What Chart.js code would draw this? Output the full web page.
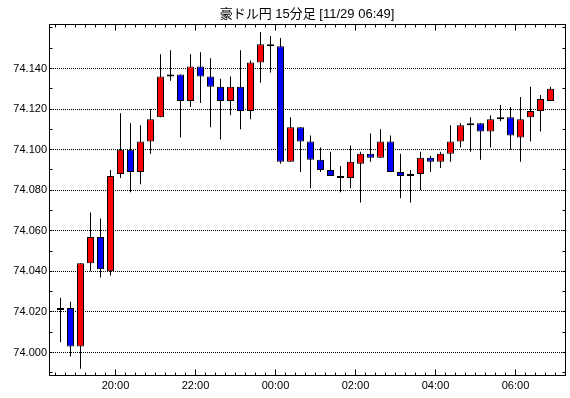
<!DOCTYPE html>
<html>
<head>
<meta charset="utf-8">
<script src="https://cdn.jsdelivr.net/npm/chart.js"></script>
<style>
  body { margin: 0; background: #fff; }
  canvas { display: block; }
</style>
</head>
<body>
<canvas id="chart" width="570" height="398"></canvas>
<script>
// Data: AUD/JPY 15 minute candles
let times = ["18:30","18:45","19:00","19:15","19:30","19:45",
  "20:00","20:15","20:30","20:45","21:00","21:15","21:30","21:45",
  "22:00","22:15","22:30","22:45","23:00","23:15","23:30","23:45",
  "00:00","00:15","00:30","00:45","01:00","01:15","01:30","01:45",
  "02:00","02:15","02:30","02:45","03:00","03:15","03:30","03:45",
  "04:00","04:15","04:30","04:45","05:00","05:15","05:30","05:45",
  "06:00","06:15","06:30","06:45"];
let opens  = [74.021,74.022,74.003,74.044,74.057,74.040,74.088,74.100,74.089,74.104,
              74.116,74.136,74.137,74.124,74.141,74.136,74.131,74.124,74.131,74.119,
              74.143,74.152,74.151,74.094,74.111,74.104,74.095,74.090,74.087,74.086,
              74.093,74.098,74.096,74.104,74.089,74.087,74.088,74.096,74.094,74.098,
              74.104,74.112,74.113,74.109,74.115,74.116,74.106,74.116,74.119,74.124];
let highs  = [74.027,74.025,74.044,74.069,74.066,74.090,74.118,74.113,74.112,74.120,
              74.147,74.149,74.137,74.147,74.148,74.145,74.135,74.136,74.149,74.144,
              74.158,74.156,74.155,74.116,74.111,74.107,74.101,74.099,74.092,74.102,
              74.099,74.108,74.110,74.107,74.098,74.090,74.099,74.097,74.099,74.112,
              74.113,74.116,74.113,74.117,74.122,74.121,74.126,74.131,74.127,74.131];
let lows   = [74.005,73.998,73.992,74.040,74.037,74.038,74.086,74.079,74.083,74.098,
              74.116,74.134,74.106,74.121,74.123,74.111,74.105,74.117,74.110,74.115,
              74.133,74.138,74.093,74.094,74.089,74.081,74.089,74.087,74.079,74.081,
              74.074,74.094,74.096,74.089,74.076,74.074,74.080,74.089,74.091,74.094,
              74.101,74.099,74.095,74.101,74.114,74.100,74.094,74.104,74.109,74.124];
let closes = [74.022,74.003,74.044,74.057,74.041,74.087,74.100,74.089,74.104,74.115,
              74.136,74.137,74.124,74.141,74.136,74.131,74.124,74.131,74.119,74.143,
              74.152,74.151,74.094,74.111,74.104,74.095,74.090,74.087,74.086,74.094,
              74.098,74.096,74.104,74.089,74.087,74.088,74.096,74.094,74.098,74.104,
              74.112,74.113,74.109,74.115,74.116,74.107,74.115,74.119,74.125,74.130];
let yTicks = [74.000,74.020,74.040,74.060,74.080,74.100,74.120,74.140];
let hourLabels = ["20:00","22:00","00:00","02:00","04:00","06:00"];

let font = "'Liberation Sans', 'Noto Sans CJK JP', sans-serif";

let bodies = times.map((t, i) => ({x: i, y: [opens[i], closes[i]]}));
let wicks = times.map((t, i) => ({x: i, y: [lows[i], highs[i]]}));

// frame + inward tick marks like the original
const frame = {
  id: "frame",
  afterDatasetsDraw(chart) {
    const {ctx, chartArea: a, scales: {x, y}} = chart;
    const L = Math.floor(a.left) + 0.5, R = Math.floor(a.right) + 0.5;
    const T = Math.floor(a.top) + 0.5, B = Math.floor(a.bottom) + 0.5;
    ctx.save();
    ctx.strokeStyle = "#000";
    ctx.lineWidth = 1;
    ctx.beginPath();
    for (let i = 0; i <= times.length; i++) {
      const px = Math.floor(x.getPixelForValue(i - 0.5)) + 0.5;
      if (px <= L || px >= R) continue;
      const len = hourLabels.includes(times[i]) ? 6 : 3;
      ctx.moveTo(px, B); ctx.lineTo(px, B - len);
      ctx.moveTo(px, T); ctx.lineTo(px, T + len);
    }
    for (let k = 0; k < 20; k++) {
      const py = Math.floor(y.getPixelForValue(73.99 + k * 0.01)) + 0.5;
      if (py <= T || py >= B) continue;
      ctx.moveTo(L, py); ctx.lineTo(L + 3, py);
      ctx.moveTo(R, py); ctx.lineTo(R - 3, py);
    }
    ctx.stroke();
    ctx.strokeRect(L, T, R - L, B - T);
    ctx.restore();
  }
};

new Chart(document.getElementById("chart"), {
  type: "bar",
  data: {
    datasets: [{
      label: "body",
      data: bodies,
      order: 0,
      grouped: false,
      barThickness: 7,
      backgroundColor: ctx => closes[ctx.dataIndex] >= opens[ctx.dataIndex] ? "#ff0000" : "#0000ff",
      borderColor: "#000",
      borderWidth: 1,
      borderSkipped: false,
      inflateAmount: 0
    }, {
      label: "wick",
      data: wicks,
      order: 1,
      grouped: false,
      barThickness: 1,
      backgroundColor: "#000",
      borderWidth: 0,
      inflateAmount: 0
    }]
  },
  options: {
    responsive: false,
    animation: false,
    devicePixelRatio: 1,
    layout: { padding: { left: 0, right: 5, top: 0, bottom: 0 } },
    plugins: {
      legend: { display: false },
      tooltip: { enabled: false },
      title: {
        display: true,
        text: "豪ドル円 15分足 [11/29 06:49]",
        color: "#000",
        fullSize: false,
        font: { family: font, size: 13, weight: "normal", lineHeight: 1.2 },
        padding: { top: 6.5, bottom: 1.9 }
      }
    },
    scales: {
      x: {
        type: "linear",
        offset: false,
        min: -1.15,
        max: 50.45,
        afterBuildTicks: s => { s.ticks = hourLabels.map(t => ({value: times.indexOf(t) - 0.5})); },
        afterFit: s => { s.height = 23; },
        ticks: {
          callback: v => times[v + 0.5],
          autoSkip: false,
          maxRotation: 0,
          padding: 4,
          color: "#000",
          font: { family: font, size: 11 }
        },
        grid: { display: false, drawTicks: false, offset: false },
        border: { display: false }
      },
      y: {
        min: 73.98891,
        max: 74.16194,
        afterBuildTicks: s => { s.ticks = yTicks.map(v => ({value: v})); },
        afterFit: s => { s.width = 49; },
        ticks: {
          callback: v => v.toFixed(3),
          padding: 2,
          color: "#000",
          font: { family: font, size: 11 }
        },
        grid: { color: "#000", lineWidth: 1, drawTicks: false },
        border: { display: false, dash: [1, 1] }
      }
    }
  },
  plugins: [frame]
});
</script>
</body>
</html>
